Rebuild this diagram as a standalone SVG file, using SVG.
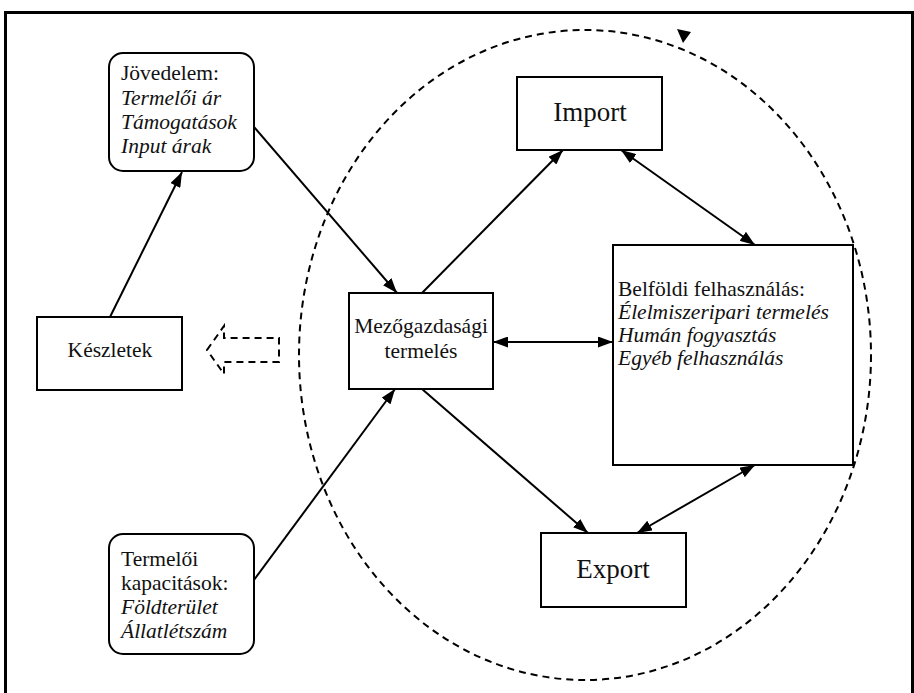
<svg xmlns="http://www.w3.org/2000/svg" width="914" height="693" viewBox="0 0 914 693">
<style>
.box{fill:#fff;stroke:#000;stroke-width:2}
.t{font-family:"Liberation Serif","Times New Roman",serif;font-size:21.5px;fill:#111}
.i{font-style:italic}
.big{font-size:27px}
.con{stroke:#000;stroke-width:2;fill:none}
.dash{stroke:#000;stroke-width:2;fill:none;stroke-dasharray:7 5}
</style>
<defs>
<marker id="ah" viewBox="0 0 15 11" refX="15" refY="5.5" markerWidth="15" markerHeight="11" markerUnits="userSpaceOnUse" orient="auto-start-reverse">
<path d="M0,0 L15,5.5 L0,11 z" fill="#000"/>
</marker>
</defs>
<rect x="0" y="0" width="914" height="693" fill="#fff"/>
<rect id="frame" x="5.5" y="12.5" width="907" height="700" fill="none" stroke="#000" stroke-width="3"/>
<g id="cycle">
<ellipse cx="585" cy="355" rx="286" ry="325" class="dash"/>
<polygon points="677,29 691,32 683,43" fill="#000"/>
</g>
<g id="stock-arrow">
<polygon points="207,350 224,326 224,338 279,338 279,362 224,362 224,374" class="dash"/>
</g>
<g id="connectors">
<line x1="110" y1="317" x2="182" y2="172" class="con" marker-end="url(#ah)"/>
<line x1="254" y1="127" x2="397" y2="293" class="con" marker-end="url(#ah)"/>
<line x1="254" y1="580" x2="395" y2="389" class="con" marker-end="url(#ah)"/>
<line x1="422" y1="293" x2="563" y2="150" class="con" marker-end="url(#ah)"/>
<line x1="422" y1="389" x2="588" y2="533" class="con" marker-end="url(#ah)"/>
<line x1="493" y1="342" x2="613" y2="342" class="con" marker-start="url(#ah)" marker-end="url(#ah)"/>
<line x1="621" y1="150" x2="755" y2="245" class="con" marker-start="url(#ah)" marker-end="url(#ah)"/>
<line x1="755" y1="465" x2="637" y2="533" class="con" marker-start="url(#ah)" marker-end="url(#ah)"/>
</g>
<g id="jovedelem">
<rect x="109" y="53" width="145" height="118" rx="14" class="box"/>
<text class="t" x="121" y="80">Jövedelem:</text>
<text class="t i" x="121" y="105">Termelői ár</text>
<text class="t i" x="121" y="129">Támogatások</text>
<text class="t i" x="121" y="153">Input árak</text>
</g>
<g id="keszletek">
<rect x="37" y="317" width="145" height="73" class="box"/>
<text class="t" x="110" y="357" text-anchor="middle">Készletek</text>
</g>
<g id="termeloi">
<rect x="109" y="534" width="145" height="120" rx="14" class="box"/>
<text class="t" x="121" y="566">Termelői</text>
<text class="t" x="121" y="590">kapacitások:</text>
<text class="t i" x="121" y="614">Földterület</text>
<text class="t i" x="121" y="638">Állatlétszám</text>
</g>
<g id="mezo">
<rect x="349" y="293" width="144" height="96" class="box"/>
<text class="t" x="421" y="333" text-anchor="middle">Mezőgazdasági</text>
<text class="t" x="421" y="358" text-anchor="middle">termelés</text>
</g>
<g id="import">
<rect x="517" y="77" width="145" height="73" class="box"/>
<text class="t big" x="590" y="121" text-anchor="middle">Import</text>
</g>
<g id="belfoldi">
<rect x="613" y="245" width="240" height="220" class="box"/>
<text class="t" x="618" y="296">Belföldi felhasználás:</text>
<text class="t i" x="618" y="319">Élelmiszeripari termelés</text>
<text class="t i" x="618" y="342">Humán fogyasztás</text>
<text class="t i" x="618" y="365">Egyéb felhasználás</text>
</g>
<g id="export">
<rect x="541" y="533" width="145" height="74" class="box"/>
<text class="t big" x="613" y="578" text-anchor="middle">Export</text>
</g>
</svg>
